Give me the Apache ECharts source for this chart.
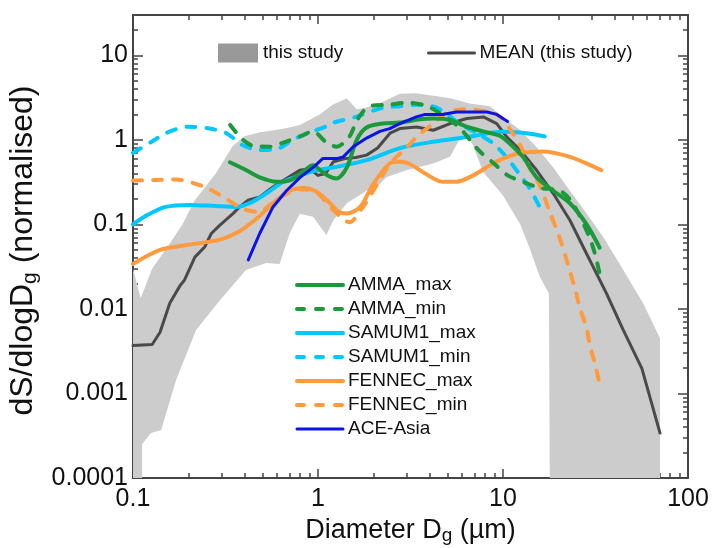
<!DOCTYPE html>
<html><head><meta charset="utf-8">
<script src="https://cdn.jsdelivr.net/npm/echarts@6/dist/echarts.min.js"></script>
<style>html,body{margin:0;padding:0;background:#fff}#c{width:713px;height:548px}</style>
</head><body><div id="c"></div>
<script>
// ---------- data (x: diameter in µm, y: dS/dlogDg normalised) ----------
const xTicks = [0.1, 1, 10, 100];
const xTickLabels = ['0.1', '1', '10', '100'];
const yTicks = [0.0001, 0.001, 0.01, 0.1, 1, 10];
const yTickLabels = ['0.0001', '0.001', '0.01', '0.1', '1', '10'];
const xRange = [0.1, 100];
const yRange = [0.0001, 30];

// grey band "this study": upper boundary (left->right) and lower boundary (left->right)
const bandUpper = [[0.1,0.03],[0.11,0.0134],[0.127,0.03],[0.15,0.05],[0.185,0.1],[0.215,0.19],[0.28,0.4],[0.347,0.85],[0.4,1.1],[0.48,1.22],[0.65,1.35],[0.8,1.5],[1.02,2.0],[1.2,2.6],[1.43,3.1],[1.62,2.3],[1.8,2.4],[2.16,2.71],[2.77,3.5],[3.4,3.55],[5.2,3.1],[6.6,2.7],[8.5,2.5],[10,1.87],[12.4,1.3],[15.2,0.82],[18.7,0.47],[23,0.25],[28.3,0.135],[34.8,0.071],[42.7,0.034],[57.3,0.0116],[70.6,0.0045]];
const bandLower = [[0.1,0.00001],[0.112,0.00001],[0.112,0.00025],[0.125,0.00034],[0.142,0.00037],[0.171,0.00144],[0.219,0.0056],[0.295,0.0127],[0.408,0.0288],[0.525,0.035],[0.62,0.034],[0.703,0.078],[0.796,0.134],[0.94,0.123],[1.11,0.075],[1.21,0.112],[1.43,0.178],[1.83,0.25],[2.16,0.3],[2.34,0.36],[3.0,0.437],[4.2,0.525],[5.17,0.63],[5.8,1.0],[6.3,1.25],[6.9,0.85],[7.8,0.42],[10,0.22],[12.4,0.1],[13.9,0.053],[15.8,0.024],[17.7,0.0152],[17.9,0.00001],[70.6,0.00001]];

const meanData = [[0.1,0.0037],[0.127,0.0038],[0.14,0.0053],[0.158,0.0117],[0.18,0.019],[0.19,0.022],[0.216,0.041],[0.244,0.054],[0.265,0.078],[0.294,0.0975],[0.347,0.134],[0.377,0.161],[0.419,0.193],[0.484,0.211],[0.571,0.277],[0.675,0.348],[0.796,0.437],[0.9,0.455],[1.0,0.38],[1.1,0.4],[1.21,0.55],[1.4,0.6],[1.6,0.62],[1.83,0.66],[2.1,0.8],[2.45,1.2],[2.77,1.36],[3.41,1.42],[4.2,1.3],[5.17,1.56],[6.37,1.79],[7.83,1.87],[9.25,1.56],[10.5,1.08],[12.4,0.754],[15.2,0.437],[18.7,0.232],[23,0.112],[28.3,0.045],[36.3,0.0152],[44.7,0.0056],[56.3,0.00198],[70.6,0.00034]];
const ammaMax = [[0.334,0.543],[0.41,0.437],[0.484,0.36],[0.595,0.32],[0.7,0.33],[0.83,0.42],[0.94,0.5],[1.05,0.42],[1.15,0.37],[1.26,0.35],[1.43,0.47],[1.62,1.0],[1.83,1.4],[2.24,1.56],[2.77,1.6],[3.55,1.75],[4.2,1.79],[5.17,1.72],[6.37,1.43],[7.8,1.26],[9.6,1.12],[10.9,0.9],[12.8,0.63],[15.2,0.36],[18.7,0.25],[23,0.178],[28.3,0.1],[33.3,0.053]];
const ammaMin = [[0.335,1.5],[0.393,1.0],[0.446,0.85],[0.55,0.83],[0.65,0.93],[0.8,1.1],[0.94,1.26],[1.1,0.95],[1.26,0.83],[1.4,0.95],[1.5,1.15],[1.65,1.8],[1.9,2.5],[2.4,2.6],[3.0,2.75],[3.8,2.55],[4.5,2.1],[5.8,1.4],[7.4,0.75],[8.9,0.53],[10.6,0.38],[12.8,0.32],[15.8,0.27],[20.3,0.25],[23.8,0.178],[29,0.075],[31.4,0.045],[33.3,0.026]];
const samumMax = [[0.1,0.1],[0.118,0.127],[0.15,0.161],[0.203,0.17],[0.28,0.165],[0.36,0.161],[0.43,0.18],[0.525,0.232],[0.65,0.32],[0.8,0.38],[0.98,0.437],[1.2,0.47],[1.83,0.575],[2.77,0.8],[4.2,0.95],[6.37,1.08],[10,1.25],[13.4,1.2],[16.8,1.1]];
const samumMin = [[0.1,0.7],[0.128,0.97],[0.15,1.2],[0.2,1.43],[0.26,1.36],[0.32,1.2],[0.39,0.87],[0.48,0.76],[0.6,0.78],[0.73,1.0],[0.9,1.22],[1.11,1.45],[1.21,1.6],[1.6,1.87],[2.24,2.4],[2.77,2.5],[3.4,2.6],[4.4,2.4],[5.8,1.56],[7.2,1.2],[8.9,0.9],[10.6,0.6],[12.4,0.38],[13.9,0.27],[15.8,0.16]];
const fennecMax = [[0.1,0.034],[0.14,0.05],[0.195,0.057],[0.295,0.066],[0.38,0.084],[0.48,0.124],[0.595,0.193],[0.7,0.25],[0.83,0.27],[0.98,0.245],[1.16,0.178],[1.3,0.14],[1.43,0.135],[1.69,0.161],[1.99,0.3],[2.44,0.525],[2.77,0.55],[3.1,0.525],[3.8,0.4],[4.7,0.32],[5.6,0.32],[6.9,0.38],[8.5,0.5],[10,0.6],[12.4,0.7],[16.6,0.73],[23,0.63],[28,0.53],[34,0.437]];
const fennecMin = [[0.1,0.33],[0.134,0.335],[0.17,0.34],[0.21,0.31],[0.26,0.26],[0.32,0.2],[0.39,0.154],[0.48,0.14],[0.55,0.17],[0.65,0.22],[0.8,0.26],[0.98,0.24],[1.2,0.15],[1.48,0.106],[1.75,0.161],[1.95,0.232],[2.16,0.34],[2.5,0.55],[3.0,0.8],[3.4,1.08],[4.2,1.56],[5.0,2.1],[6.1,2.3],[7.8,2.2],[9.6,1.9],[10.9,1.35],[12.8,0.75],[13.9,0.47],[15.9,0.28],[17.9,0.14],[20.3,0.068],[23,0.028],[24.9,0.0152],[26,0.0103],[28.2,0.0061],[29.5,0.0037],[31.4,0.00227],[33.5,0.0012]];
const aceAsia = [[0.42,0.038],[0.484,0.078],[0.571,0.161],[0.675,0.25],[0.8,0.36],[0.94,0.47],[1.06,0.6],[1.2,0.6],[1.26,0.6],[1.37,0.63],[1.55,0.83],[1.83,1.05],[2.16,1.26],[2.44,1.36],[2.77,1.56],[3.4,1.87],[3.8,2.0],[4.7,2.0],[5.6,2.14],[8.2,2.14],[9.25,2.0],[10.6,1.65]];

// ---------- helpers ----------
const L = v => Math.log10(v);
const FONT = '"Liberation Sans", Arial, Helvetica, sans-serif';
const AX = '#444';
const yMinL = L(yRange[0]);
const toLog = arr => arr.map(p => [L(p[0]), Math.max(L(p[1]), yMinL)]);
function minorTicks(lo, hi) {
  const out = [];
  for (let e = Math.floor(L(lo)); e < Math.ceil(L(hi)); e++)
    for (let k = 2; k <= 9; k++) { const v = k * Math.pow(10, e); if (v > lo && v < hi) out.push(L(v)); }
  return out;
}
function labelFor(ticks, labels) {
  return v => { for (let i = 0; i < ticks.length; i++) if (Math.abs(L(ticks[i]) - v) < 1e-6) return labels[i]; return ''; };
}
function axis(range, pos, ticks, len, lineShow, labelCfg, extra) {
  return Object.assign({
    type: 'value', min: L(range[0]), max: L(range[1]), position: pos,
    axisLine: { show: lineShow, onZero: false, lineStyle: { color: AX, width: 2 } },
    axisTick: { show: true, inside: true, length: len, customValues: ticks, lineStyle: { color: AX, width: 1.5 } },
    axisLabel: labelCfg || { show: false },
    splitLine: { show: false }, minorTick: { show: false }, minorSplitLine: { show: false }
  }, extra || {});
}
const xMajor = xTicks.map(L), yMajor = yTicks.map(L);
const xMinor = minorTicks(xRange[0], xRange[1]), yMinor = minorTicks(yRange[0], yRange[1]);

const xNameRich = {
  m: { fontSize: 27, fontFamily: FONT, color: '#111', lineHeight: 30 },
  s: { fontSize: 19, fontFamily: FONT, color: '#111', lineHeight: 6, verticalAlign: 'bottom' }
};
const yNameRich = {
  m: { fontSize: 32, fontFamily: FONT, color: '#111', lineHeight: 34 },
  s: { fontSize: 21, fontFamily: FONT, color: '#111', lineHeight: 6, verticalAlign: 'bottom' }
};

const bandPoly = toLog(bandUpper.concat(bandLower.slice().reverse()));

function lineSeries(name, data, color, width, dashed) {
  return {
    type: 'line', name: name, data: toLog(data), xAxisIndex: 0, yAxisIndex: 0,
    symbol: 'none', showSymbol: false, smooth: dashed === 'jag' ? false : 0.3, z: 3,
    lineStyle: { color: color, width: width, type: dashed === true ? [9, 11] : 'solid', cap: 'round', join: 'round' },
    itemStyle: { color: color }, emphasis: { disabled: true }
  };
}
function legendItem(name, width, dashed) {
  return {
    name: name,
    itemStyle: { opacity: 0, borderWidth: 0 },
    lineStyle: { width: width, type: dashed ? [7, 12] : 'solid', cap: 'round' }
  };
}

const GREEN = '#1b9a3c', CYAN = '#00c8ff', ORANGE = '#ff9a3d', BLUE = '#0a14e6', MEANC = '#4a4a4a';
const legendText = { fontSize: 19, fontFamily: FONT, color: '#111', lineHeight: 20 };

const chart = echarts.init(document.getElementById('c'), null, { renderer: 'canvas' });
chart.setOption({
  animation: false,
  backgroundColor: '#ffffff',
  grid: { left: 133, right: 25, top: 15, bottom: 70, containLabel: false, outerBoundsMode: 'none' },
  xAxis: [
    axis(xRange, 'bottom', xMajor, 9, true, {
      show: true, customValues: xMajor, formatter: labelFor(xTicks, xTickLabels),
      fontSize: 25, fontFamily: FONT, color: '#111', margin: 9
    }, {
      name: '{m|Diameter D}{s|g}{m| (µm)}', nameLocation: 'middle', nameGap: 37,
      nameTextStyle: { rich: xNameRich }
    }),
    axis(xRange, 'bottom', xMinor, 5, false),
    axis(xRange, 'top', xMajor, 9, true),
    axis(xRange, 'top', xMinor, 5, false)
  ],
  yAxis: [
    axis(yRange, 'left', yMajor, 10, true, {
      show: true, customValues: yMajor, formatter: labelFor(yTicks, yTickLabels),
      fontSize: 25, fontFamily: FONT, color: '#111', margin: 5
    }, {
      name: '{m|dS/dlogD}{s|g}{m| (normalised)}', nameLocation: 'middle', nameGap: 85,
      nameTextStyle: { rich: yNameRich, padding: [0, 8, 0, 0] }
    }),
    axis(yRange, 'left', yMinor, 5, false),
    axis(yRange, 'right', yMajor, 10, true),
    axis(yRange, 'right', yMinor, 5, false)
  ],
  legend: [
    {
      data: [{ name: 'this study', icon: 'rect', itemStyle: { color: '#999999' } }],
      left: 218, top: 43, padding: 0, itemWidth: 40, itemHeight: 19, selectedMode: false,
      textStyle: legendText
    },
    {
      data: [legendItem('MEAN (this study)', 3, false)],
      left: 427, top: 43, padding: 0, itemWidth: 46, itemHeight: 14, selectedMode: false,
      textStyle: legendText
    },
    {
      data: [legendItem('AMMA_max', 4, false), legendItem('AMMA_min', 4, true),
             legendItem('SAMUM1_max', 4, false), legendItem('SAMUM1_min', 4, true),
             legendItem('FENNEC_max', 4, false), legendItem('FENNEC_min', 4, true),
             legendItem('ACE-Asia', 3, false)],
      orient: 'vertical', left: 295, top: 275, padding: 0, itemWidth: 46, itemHeight: 14, itemGap: 4,
      selectedMode: false, textStyle: legendText
    }
  ],
  series: [
    {
      type: 'custom', name: 'this study', xAxisIndex: 0, yAxisIndex: 0, z: 1, silent: true,
      data: bandPoly, encode: { x: 0, y: 1 }, itemStyle: { color: '#cccccc' },
      renderItem: function (params, api) {
        if (params.dataIndex !== 0) return null;
        const pts = bandPoly.map(d => api.coord(d));
        return { type: 'polygon', shape: { points: pts }, style: { fill: '#cccccc' } };
      }
    },
    lineSeries('MEAN (this study)', meanData, MEANC, 3, 'jag'),
    lineSeries('SAMUM1_max', samumMax, CYAN, 4, false),
    lineSeries('SAMUM1_min', samumMin, CYAN, 4, true),
    lineSeries('FENNEC_max', fennecMax, ORANGE, 4, false),
    lineSeries('FENNEC_min', fennecMin, ORANGE, 4, true),
    lineSeries('AMMA_max', ammaMax, GREEN, 4, false),
    lineSeries('AMMA_min', ammaMin, GREEN, 4, true),
    lineSeries('ACE-Asia', aceAsia, BLUE, 3, 'jag')
  ]
});
</script></body></html>
